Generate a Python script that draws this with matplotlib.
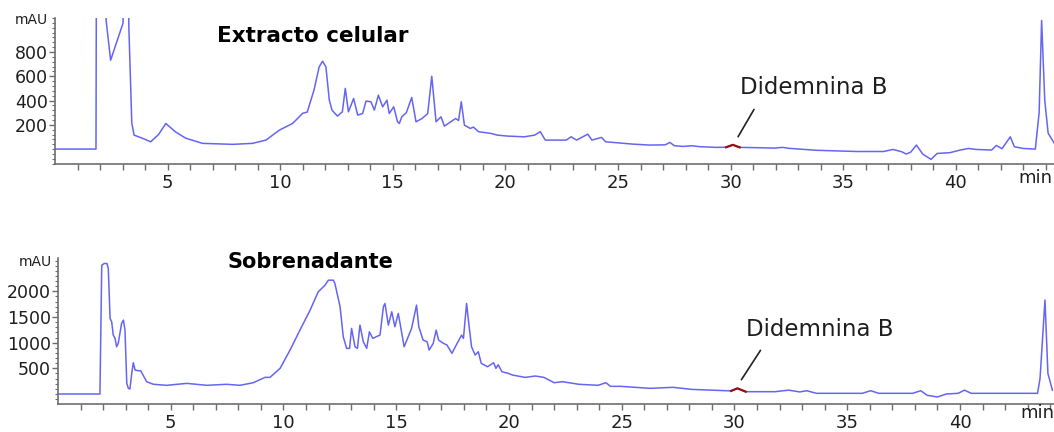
import matplotlib
matplotlib.use("Agg")
import matplotlib.pyplot as plt
import numpy as np
from matplotlib.ticker import MultipleLocator, FixedLocator

# --- data (time in min, absorbance in mAU) ---
top_t = [0, 1.82, 1.85, 2.2, 2.27, 2.47, 3.02, 3.07, 3.2, 3.28, 3.41, 3.51, 3.87, 4.25,
         4.6, 4.92, 5.35, 5.8, 6.55, 7.9, 8.77, 9.37, 9.96, 10.55, 11.0, 11.2, 11.5,
         11.73, 11.88, 12.03, 12.18, 12.3, 12.54, 12.76, 12.89, 13.03, 13.26, 13.44,
         13.66, 13.81, 14.03, 14.18, 14.36, 14.55, 14.74, 14.84, 15.04, 15.21, 15.29,
         15.4, 15.6, 15.84, 16.03, 16.3, 16.55, 16.73, 16.92, 17.14, 17.29, 17.51,
         17.79, 17.92, 18.04, 18.18, 18.44, 18.58, 18.81, 19.36, 19.64, 20.09, 20.84,
         21.3, 21.55, 21.77, 22.7, 22.92, 23.16, 23.66, 23.84, 24.27, 24.45, 25.65,
         26.4, 27.1, 27.3, 27.5, 27.87, 28.3, 28.6, 29.36, 29.8, 30.1, 30.4, 31.0,
         31.96, 32.3, 32.6, 33.8, 35.6, 36.8, 37.2, 37.6, 37.8, 38.0, 38.25, 38.53,
         38.9, 39.17, 39.73, 40.2, 40.56, 40.9, 41.59, 41.8, 42.05, 42.42, 42.6, 43.0,
         43.53, 43.7, 43.81, 43.95, 44.1, 44.4]
top_v = [0, 0, 2500, 2500, 1060, 732, 1037, 2500, 2500, 1000, 214, 115, 90, 60,
         120, 211, 142, 90, 47, 39, 47, 74, 156, 211, 295, 305, 486,
         677, 724, 677, 403, 321, 272, 307, 500, 307, 417, 280,
         293, 395, 390, 321, 444, 348, 403, 293, 348, 225, 211,
         266, 300, 425, 225, 252, 293, 600, 225, 266, 189, 217,
         252, 235, 390, 197, 170, 181, 143, 129, 115, 107, 101,
         115, 143, 74, 74, 101, 74, 123, 74, 96, 60, 41,
         33, 35, 55, 28, 22, 27, 20, 14, 15, 35, 14, 12,
         8, 14, 6, -10, -20, -20, -3, -22, -41, -25, 33, -41,
         -85, -36, -30, -8, 5, -3, -8, 30, 3, 101, 19, 5,
         0, 300, 1060, 400, 131, 40]

bot_t = [0, 1.86, 1.94, 2.05, 2.17, 2.23, 2.31, 2.38, 2.45, 2.53, 2.6, 2.67, 2.82, 2.9,
         2.97, 3.05, 3.12, 3.19, 3.27, 3.34, 3.42, 3.56, 3.67, 3.78, 3.93, 4.23, 4.82,
         5.71, 6.6, 7.48, 8.07, 8.66, 9.18, 9.4, 9.85, 10.29, 10.73, 11.18, 11.54,
         11.84, 11.99, 12.21, 12.28, 12.51, 12.65, 12.8, 12.93, 13.02, 13.17, 13.28,
         13.39, 13.54, 13.69, 13.81, 13.96, 14.11, 14.28, 14.43, 14.5, 14.65, 14.8,
         14.94, 15.09, 15.17, 15.35, 15.53, 15.68, 15.9, 16.0, 16.19, 16.37, 16.46,
         16.64, 16.77, 16.88, 17.1, 17.25, 17.47, 17.66, 17.9, 17.98, 18.12, 18.2,
         18.34, 18.5, 18.64, 18.77, 19.05, 19.32, 19.42, 19.52, 19.69, 19.97, 20.15,
         20.71, 21.17, 21.55, 22.0, 22.37, 23.1, 23.95, 24.3, 24.5, 24.96, 26.25,
         27.27, 28.1, 29.58, 29.85, 30.13, 30.5, 31.8, 32.4, 32.9, 33.2, 33.64, 35.67,
         36.04, 36.4, 37.9, 38.26, 38.55, 39.0, 39.4, 39.92, 40.2, 40.5, 40.97, 43.44,
         43.55, 43.77, 43.9, 44.1]
bot_v = [0, 0, 2510, 2543, 2543, 2445, 1472, 1407, 1148, 1083, 920, 985, 1375, 1440,
         1245, 207, 110, 97, 402, 609, 467, 453, 453, 364, 240, 189, 169,
         207, 169, 189, 169, 220, 324, 324, 500, 856, 1245, 1634, 1990,
         2120, 2218, 2218, 2153, 1699, 1115, 889, 889, 1278, 920, 889,
         1342, 1018, 889, 1212, 1083, 1115, 1148, 1699, 1764, 1342, 1602,
         1310, 1570, 1375, 920, 1115, 1278, 1732, 1310, 1051, 1018, 856,
         985, 1245, 1051, 985, 953, 792, 953, 1148, 1083, 1764, 1440,
         920, 759, 823, 597, 531, 609, 500, 570, 434, 402, 370,
         324, 350, 324, 220, 240, 189, 169, 220, 149, 149, 110,
         130, 90, 64, 60, 110, 45, 45, 75, 40, 64, 13, 13,
         64, 13, 13, 64, -26, -58, 0, 13, 75, 13, 13, 13,
         300, 1830, 400, 75]

marker_window = (29.8, 30.5)   # Didemnina B peak, drawn in red
blue, red, grey = "#6565f2", "#9a1010", "#6e6e6e"

fig = plt.figure(figsize=(10.54, 4.32), dpi=100)
W, H = 1054, 432
ax1 = fig.add_axes([55 / W, 1 - 164 / H, 999 / W, 146 / H])
ax2 = fig.add_axes([58 / W, 1 - 404 / H, 996 / W, 146 / H])


def style(ax, xmax, ylim, ymajor):
    ax.set_xlim(0, xmax); ax.set_ylim(*ylim)
    for s in ("top", "right"): ax.spines[s].set_visible(False)
    for s in ("left", "bottom"): ax.spines[s].set_color(grey); ax.spines[s].set_linewidth(1.2)
    ax.xaxis.set_major_locator(FixedLocator(range(5, 45, 5)))
    ax.xaxis.set_minor_locator(FixedLocator([m for m in range(1, 45) if m % 5]))
    ax.yaxis.set_major_locator(FixedLocator(ymajor))
    ax.yaxis.set_minor_locator(MultipleLocator(ymajor[0] / 5 if len(ymajor) == 4 else ymajor[0] / 5))
    ax.tick_params(axis="x", which="both", length=4, width=1, color=grey, pad=3,
                   labelsize=13, labelcolor="#1e1e1e")
    ax.tick_params(axis="y", which="major", length=4, width=1, color=grey, pad=1,
                   labelsize=12.5, labelcolor="#1e1e1e")
    ax.tick_params(axis="y", which="minor", length=2.5, width=0.8, color=grey)
    ax.set_facecolor("none")


def trace(ax, t, v):
    t, v = np.asarray(t, float), np.asarray(v, float)
    ax.plot(t, v, color=blue, lw=1.1, zorder=2)
    m = (t >= marker_window[0]) & (t <= marker_window[1])
    ax.plot(t[m], v[m], color=red, lw=1.6, zorder=3)


style(ax1, 44.36, (-123, 1080), [200, 400, 600, 800])
style(ax2, 44.17, (-195, 2650), [500, 1000, 1500, 2000])
trace(ax1, top_t, top_v)
trace(ax2, bot_t, bot_v)

ax1.text(7.2, 930, "Extracto celular", fontsize=15.5, fontweight="bold", va="center")
ax2.text(7.5, 2568, "Sobrenadante", fontsize=15, fontweight="bold", va="center")

ax1.annotate("", xy=(30.27, 82), xytext=(31.1, 346),
             arrowprops=dict(arrowstyle="-", color="#222222", lw=1.2))
ax1.text(30.4, 510, "Didemnina B", fontsize=16.5, va="center", color="#1e1e1e")
ax2.annotate("", xy=(30.24, 233), xytext=(31.22, 895),
             arrowprops=dict(arrowstyle="-", color="#222222", lw=1.2))
ax2.text(30.5, 1265, "Didemnina B", fontsize=16.5, va="center", color="#1e1e1e")

fig.text(48 / W, 1 - 20 / H, "mAU", fontsize=10, ha="right", va="center", color="#1e1e1e")
fig.text(52 / W, 1 - 262 / H, "mAU", fontsize=10, ha="right", va="center", color="#1e1e1e")
fig.text(1018 / W, 1 - 178 / H, "min", fontsize=13, ha="left", va="center", color="#1e1e1e")
fig.text(1020 / W, 1 - 413 / H, "min", fontsize=13, ha="left", va="center", color="#1e1e1e")

fig.savefig("out.png", dpi=100, facecolor="white")
